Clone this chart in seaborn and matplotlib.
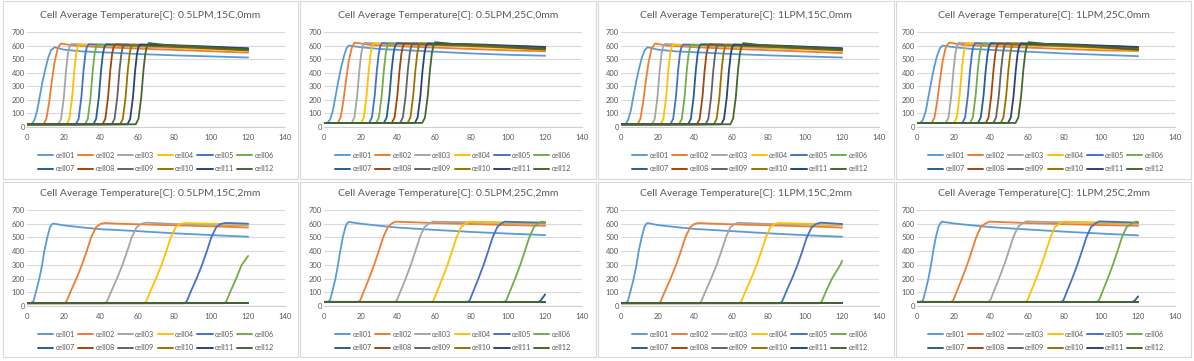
import pandas as pd
import matplotlib.pyplot as plt
import seaborn as sns
from matplotlib.lines import Line2D
from matplotlib.patches import Rectangle

# Nombres de las celdas y colores (paleta por defecto de Excel)
cells = ["cell01", "cell02", "cell03", "cell04", "cell05", "cell06",
         "cell07", "cell08", "cell09", "cell10", "cell11", "cell12"]
colors = ["#5B9BD5", "#ED7D31", "#A5A5A5", "#FFC000", "#4472C4", "#70AD47",
          "#255E91", "#9E480E", "#636363", "#997300", "#264478", "#43682B"]

titles = ["Cell Average Temperature[C]: 0.5LPM,15C,0mm",
          "Cell Average Temperature[C]: 0.5LPM,25C,0mm",
          "Cell Average Temperature[C]: 1LPM,15C,0mm",
          "Cell Average Temperature[C]: 1LPM,25C,0mm",
          "Cell Average Temperature[C]: 0.5LPM,15C,2mm",
          "Cell Average Temperature[C]: 0.5LPM,25C,2mm",
          "Cell Average Temperature[C]: 1LPM,15C,2mm",
          "Cell Average Temperature[C]: 1LPM,25C,2mm"]

x_ticks = [0, 20, 40, 60, 80, 100, 120, 140]
y_ticks = [0, 100, 200, 300, 400, 500, 600, 700]

p_05_15_0 = {
    "cell01": ([0, 2.5, 4, 5.5, 7, 8.5, 10, 11.5, 13, 15, 20, 30, 45, 60, 80, 100, 120],
               [20, 20, 50, 120, 230, 340, 430, 510, 565, 588, 570, 557, 548, 538, 528, 520, 512]),
    "cell02": ([0, 9, 10.5, 12, 13.5, 15, 16.5, 17.5, 18.5, 25, 40, 60, 80, 100, 120],
               [20, 20, 60, 180, 340, 480, 570, 600, 615, 600, 588, 578, 568, 558, 548]),
    "cell03": ([0, 17, 18.5, 20, 21.2, 22.2, 23, 24, 40, 60, 90, 120],
               [20, 20, 60, 220, 420, 540, 590, 612, 602, 592, 578, 565]),
    "cell04": ([0, 21.5, 23, 24.5, 25.7, 26.7, 27.5, 28.5, 50, 80, 120],
               [20, 20, 60, 220, 420, 540, 590, 608, 598, 585, 560]),
    "cell05": ([0, 26.5, 28, 29.5, 30.7, 31.7, 32.5, 33.5, 60, 90, 120],
               [20, 20, 60, 220, 420, 540, 590, 610, 598, 588, 572]),
    "cell06": ([0, 31.5, 33, 34.5, 35.7, 36.7, 37.5, 38.5, 60, 90, 120],
               [20, 20, 60, 220, 420, 540, 590, 608, 598, 585, 570]),
    "cell07": ([0, 36, 37.5, 39, 40.2, 41.2, 42, 43, 70, 95, 120],
               [20, 20, 60, 220, 420, 540, 590, 610, 600, 590, 578]),
    "cell08": ([0, 41, 42.5, 44, 45.2, 46.2, 47, 48, 70, 95, 120],
               [20, 20, 60, 220, 420, 540, 590, 610, 598, 582, 565]),
    "cell09": ([0, 46, 47.5, 49, 50.2, 51.2, 52, 53, 75, 100, 120],
               [20, 20, 60, 220, 420, 540, 590, 608, 600, 588, 572]),
    "cell10": ([0, 50.5, 52, 53.5, 54.7, 55.7, 56.5, 57.5, 80, 100, 120],
               [20, 20, 60, 220, 420, 540, 590, 608, 598, 585, 568]),
    "cell11": ([0, 54.5, 56, 57.5, 58.7, 59.7, 60.5, 61.5, 85, 100, 120],
               [20, 20, 60, 220, 420, 540, 590, 608, 600, 592, 580]),
    "cell12": ([0, 59, 60.5, 62, 63.2, 64.2, 65, 66, 75, 90, 120],
               [20, 20, 60, 220, 420, 540, 590, 618, 605, 592, 570]),
}

p_05_25_0 = {
    "cell01": ([0, 1.8, 3.3, 4.8, 6.3, 7.8, 9.3, 10.8, 12.2, 13.4, 20, 30, 45, 60, 80, 100, 120],
               [30, 30, 55, 120, 230, 340, 440, 520, 580, 600, 588, 575, 565, 555, 542, 532, 525]),
    "cell02": ([0, 7.5, 9, 10.5, 12, 13.5, 15, 16, 16.6, 25, 40, 60, 80, 100, 120],
               [30, 30, 70, 190, 350, 490, 580, 610, 622, 605, 595, 585, 575, 565, 558]),
    "cell03": ([0, 15, 16.5, 18, 19.2, 20.2, 21, 22, 40, 70, 100, 120],
               [30, 30, 70, 230, 420, 540, 595, 620, 608, 598, 585, 575]),
    "cell04": ([0, 20.1, 21.6, 23.1, 24.3, 25.3, 26.1, 27.1, 50, 80, 120],
               [30, 30, 70, 230, 420, 540, 595, 618, 605, 592, 568]),
    "cell05": ([0, 24.5, 26, 27.5, 28.7, 29.7, 30.5, 31.5, 60, 90, 120],
               [30, 30, 70, 230, 420, 540, 595, 618, 605, 595, 580]),
    "cell06": ([0, 28.3, 29.8, 31.3, 32.5, 33.5, 34.3, 35.3, 60, 90, 120],
               [30, 30, 70, 230, 420, 540, 595, 616, 605, 592, 575]),
    "cell07": ([0, 32.5, 34, 35.5, 36.7, 37.7, 38.5, 39.5, 70, 95, 120],
               [30, 30, 70, 230, 420, 540, 595, 618, 608, 598, 588]),
    "cell08": ([0, 36.8, 38.3, 39.8, 41, 42, 42.8, 43.8, 70, 95, 120],
               [30, 30, 70, 230, 420, 540, 595, 616, 605, 590, 570]),
    "cell09": ([0, 41.3, 42.8, 44.3, 45.5, 46.5, 47.3, 48.3, 75, 100, 120],
               [30, 30, 70, 230, 420, 540, 595, 616, 608, 595, 580]),
    "cell10": ([0, 45.4, 46.9, 48.4, 49.6, 50.6, 51.4, 52.4, 80, 100, 120],
               [30, 30, 70, 230, 420, 540, 595, 616, 605, 592, 578]),
    "cell11": ([0, 49.3, 50.8, 52.3, 53.5, 54.5, 55.3, 56.3, 85, 100, 120],
               [30, 30, 70, 230, 420, 540, 595, 616, 608, 600, 590]),
    "cell12": ([0, 53.3, 54.8, 56.3, 57.5, 58.5, 59.3, 60.3, 70, 90, 120],
               [30, 30, 70, 230, 420, 540, 595, 625, 612, 600, 575]),
}

p_1_15_0 = {
    "cell01": ([0, 2.3, 3.8, 5.3, 6.8, 8.3, 9.8, 11.3, 12.8, 14.5, 20, 30, 45, 60, 80, 100, 120],
               [20, 20, 50, 120, 230, 340, 430, 510, 565, 588, 570, 557, 548, 538, 528, 520, 512]),
    "cell02": ([0, 9, 10.5, 12, 13.5, 15, 16.5, 17.6, 18.6, 25, 40, 60, 80, 100, 120],
               [20, 20, 60, 180, 340, 480, 570, 600, 615, 600, 588, 576, 566, 556, 545]),
    "cell03": ([0, 16.8, 18.3, 19.8, 21, 22, 22.8, 23.8, 40, 60, 90, 120],
               [20, 20, 60, 220, 420, 540, 590, 612, 600, 590, 576, 565]),
    "cell04": ([0, 21.5, 23, 24.5, 25.7, 26.7, 27.5, 28.5, 50, 80, 120],
               [20, 20, 60, 220, 420, 540, 590, 607, 597, 585, 562]),
    "cell05": ([0, 26.8, 28.3, 29.8, 31, 32, 32.8, 33.8, 60, 90, 120],
               [20, 20, 60, 220, 420, 540, 590, 608, 598, 588, 575]),
    "cell06": ([0, 31.5, 33, 34.5, 35.7, 36.7, 37.5, 38.5, 60, 90, 120],
               [20, 20, 60, 220, 420, 540, 590, 607, 598, 585, 568]),
    "cell07": ([0, 36.4, 37.9, 39.4, 40.6, 41.6, 42.4, 43.4, 70, 95, 120],
               [20, 20, 60, 220, 420, 540, 590, 610, 600, 590, 578]),
    "cell08": ([0, 41.2, 42.7, 44.2, 45.4, 46.4, 47.2, 48.2, 70, 95, 120],
               [20, 20, 60, 220, 420, 540, 590, 610, 598, 582, 565]),
    "cell09": ([0, 45.9, 47.4, 48.9, 50.1, 51.1, 51.9, 52.9, 75, 100, 120],
               [20, 20, 60, 220, 420, 540, 590, 608, 600, 588, 572]),
    "cell10": ([0, 50.4, 51.9, 53.4, 54.6, 55.6, 56.4, 57.4, 80, 100, 120],
               [20, 20, 60, 220, 420, 540, 590, 608, 598, 585, 570]),
    "cell11": ([0, 54.4, 55.9, 57.4, 58.6, 59.6, 60.4, 61.4, 85, 100, 120],
               [20, 20, 60, 220, 420, 540, 590, 608, 600, 592, 580]),
    "cell12": ([0, 59.3, 60.8, 62.3, 63.5, 64.5, 65.3, 66.3, 75, 90, 120],
               [20, 20, 60, 220, 420, 540, 590, 618, 605, 592, 572]),
}

p_1_25_0 = {
    "cell01": ([0, 1.8, 3.3, 4.8, 6.3, 7.8, 9.3, 10.8, 12.4, 13.9, 20, 30, 45, 60, 80, 100, 120],
               [30, 30, 55, 120, 230, 340, 440, 520, 580, 600, 588, 575, 565, 555, 542, 532, 522]),
    "cell02": ([0, 8, 9.5, 11, 12.5, 14, 15.5, 16.7, 17.5, 25, 40, 60, 80, 100, 120],
               [30, 30, 70, 190, 350, 490, 580, 610, 622, 605, 595, 585, 575, 565, 560]),
    "cell03": ([0, 15.6, 17.1, 18.6, 19.8, 20.8, 21.6, 22.6, 40, 70, 100, 120],
               [30, 30, 70, 230, 420, 540, 595, 620, 608, 598, 585, 572]),
    "cell04": ([0, 20.1, 21.6, 23.1, 24.3, 25.3, 26.1, 27.1, 50, 80, 120],
               [30, 30, 70, 230, 420, 540, 595, 618, 605, 592, 565]),
    "cell05": ([0, 24.6, 26.1, 27.6, 28.8, 29.8, 30.6, 31.6, 60, 90, 120],
               [30, 30, 70, 230, 420, 540, 595, 618, 605, 595, 580]),
    "cell06": ([0, 28.8, 30.3, 31.8, 33, 34, 34.8, 35.8, 60, 90, 120],
               [30, 30, 70, 230, 420, 540, 595, 616, 605, 592, 575]),
    "cell07": ([0, 33.1, 34.6, 36.1, 37.3, 38.3, 39.1, 40.1, 70, 95, 120],
               [30, 30, 70, 230, 420, 540, 595, 618, 608, 598, 588]),
    "cell08": ([0, 37.3, 38.8, 40.3, 41.5, 42.5, 43.3, 44.3, 70, 95, 120],
               [30, 30, 70, 230, 420, 540, 595, 616, 605, 590, 568]),
    "cell09": ([0, 41.4, 42.9, 44.4, 45.6, 46.6, 47.4, 48.4, 75, 100, 120],
               [30, 30, 70, 230, 420, 540, 595, 616, 608, 595, 580]),
    "cell10": ([0, 45.4, 46.9, 48.4, 49.6, 50.6, 51.4, 52.4, 80, 100, 120],
               [30, 30, 70, 230, 420, 540, 595, 616, 605, 592, 578]),
    "cell11": ([0, 49.4, 50.9, 52.4, 53.6, 54.6, 55.4, 56.4, 85, 100, 120],
               [30, 30, 70, 230, 420, 540, 595, 616, 608, 600, 590]),
    "cell12": ([0, 53.5, 55, 56.5, 57.7, 58.7, 59.5, 60.5, 70, 90, 120],
               [30, 30, 70, 230, 420, 540, 595, 625, 612, 600, 572]),
}

p_05_15_2 = {
    "cell01": ([0, 2, 3.5, 4.8, 6.7, 8.2, 9.4, 11, 12.5, 13.4, 14.3, 20, 30, 40, 60, 80, 100, 120],
               [20, 20, 35, 100, 200, 300, 400, 500, 575, 595, 601, 588, 573, 560, 546, 530, 517, 505]),
    "cell02": ([0, 20.3, 21.5, 23.5, 26.8, 29.8, 32.4, 34.8, 37.5, 39.8, 42.3, 50, 70, 90, 110, 120],
               [20, 20, 35, 100, 200, 300, 400, 500, 575, 598, 605, 600, 592, 585, 577, 572]),
    "cell03": ([0, 42.3, 43.5, 45.5, 48.8, 51.8, 54.4, 56.8, 59.5, 61.8, 64.4, 80, 100, 120],
               [20, 20, 35, 100, 200, 300, 400, 500, 575, 598, 608, 598, 592, 588]),
    "cell04": ([0, 63.5, 64.7, 66.7, 70, 73, 75.6, 78, 80.7, 83, 85.5, 100, 120],
               [20, 20, 35, 100, 200, 300, 400, 500, 575, 598, 605, 600, 597]),
    "cell05": ([0, 85.5, 86.7, 88.7, 92, 95, 97.6, 100, 102.7, 105, 107.8, 120],
               [20, 20, 35, 100, 200, 300, 400, 500, 575, 598, 606, 600]),
    "cell06": ([0, 107, 108.2, 110.2, 113.5, 116.5, 120],
               [20, 20, 35, 100, 200, 300, 365]),
    "cell07": ([0, 120], [20, 20]),
    "cell08": ([0, 120], [20, 20]),
    "cell09": ([0, 120], [20, 20]),
    "cell10": ([0, 120], [20, 20]),
    "cell11": ([0, 120], [20, 20]),
    "cell12": ([0, 120], [20, 20]),
}

p_05_25_2 = {
    "cell01": ([0, 1.8, 3.2, 4.4, 6.2, 7.6, 8.8, 10.2, 11.6, 12.4, 13.4, 20, 30, 40, 60, 80, 100, 120],
               [30, 30, 40, 100, 200, 300, 400, 500, 575, 600, 613, 600, 585, 572, 555, 540, 528, 517]),
    "cell02": ([0, 18.4, 19.6, 21.4, 24.4, 27.2, 29.7, 32.1, 34.6, 36.6, 38.7, 60, 80, 100, 120],
               [30, 30, 40, 100, 200, 300, 400, 500, 575, 600, 615, 605, 598, 590, 585]),
    "cell03": ([0, 38.3, 39.5, 41.3, 44.3, 47.1, 49.6, 52, 54.5, 56.8, 59.1, 80, 100, 120],
               [30, 30, 40, 100, 200, 300, 400, 500, 575, 600, 615, 610, 605, 600]),
    "cell04": ([0, 58.2, 59.4, 61.2, 64.2, 67, 69.5, 71.9, 74.4, 76.6, 79, 100, 120],
               [30, 30, 40, 100, 200, 300, 400, 500, 575, 600, 615, 610, 605]),
    "cell05": ([0, 77.8, 79, 80.8, 83.8, 86.6, 89.1, 91.5, 94, 96, 98, 110, 120],
               [30, 30, 40, 100, 200, 300, 400, 500, 575, 600, 615, 610, 608]),
    "cell06": ([0, 97.7, 98.9, 100.7, 103.7, 106.5, 109, 111.4, 113.9, 115.9, 117.9, 120],
               [30, 30, 40, 100, 200, 300, 400, 500, 575, 600, 615, 612]),
    "cell07": ([0, 116.4, 117.6, 120], [30, 30, 40, 85]),
    "cell08": ([0, 120], [30, 30]),
    "cell09": ([0, 120], [30, 30]),
    "cell10": ([0, 120], [30, 30]),
    "cell11": ([0, 120], [30, 30]),
    "cell12": ([0, 120], [30, 30]),
}

p_1_15_2 = {
    "cell01": ([0, 2.2, 3.7, 5, 6.9, 8.4, 9.6, 11.2, 12.7, 13.6, 14.5, 20, 30, 40, 60, 80, 100, 120],
               [20, 20, 35, 100, 200, 300, 400, 500, 575, 598, 605, 590, 575, 562, 546, 530, 516, 505]),
    "cell02": ([0, 20.4, 21.6, 23.6, 26.9, 29.9, 32.5, 34.9, 37.6, 39.8, 42.1, 50, 70, 90, 110, 120],
               [20, 20, 35, 100, 200, 300, 400, 500, 575, 598, 605, 600, 592, 585, 577, 572]),
    "cell03": ([0, 42.4, 43.6, 45.6, 48.9, 51.9, 54.5, 56.9, 59.4, 61.5, 63.8, 80, 100, 120],
               [20, 20, 35, 100, 200, 300, 400, 500, 575, 598, 607, 598, 594, 590]),
    "cell04": ([0, 64.1, 65.3, 67.3, 70.6, 73.6, 76.2, 78.6, 81.1, 83.2, 85.4, 100, 120],
               [20, 20, 35, 100, 200, 300, 400, 500, 575, 598, 605, 600, 595]),
    "cell05": ([0, 86.3, 87.5, 89.5, 92.8, 95.8, 98.4, 100.8, 103.5, 105.8, 108.4, 120],
               [20, 20, 35, 100, 200, 300, 400, 500, 575, 598, 608, 598]),
    "cell06": ([0, 107.8, 109, 111, 114.5, 119, 120],
               [20, 20, 35, 100, 200, 300, 330]),
    "cell07": ([0, 120], [20, 20]),
    "cell08": ([0, 120], [20, 20]),
    "cell09": ([0, 120], [20, 20]),
    "cell10": ([0, 120], [20, 20]),
    "cell11": ([0, 120], [20, 20]),
    "cell12": ([0, 120], [20, 20]),
}

p_1_25_2 = {
    "cell01": ([0, 1.8, 3.2, 4.4, 6.2, 7.6, 8.8, 10.2, 11.6, 12.5, 13.5, 20, 30, 40, 60, 80, 100, 120],
               [30, 30, 40, 100, 200, 300, 400, 500, 575, 600, 615, 602, 588, 575, 558, 542, 528, 515]),
    "cell02": ([0, 18.4, 19.6, 21.4, 24.4, 27.2, 29.7, 32.1, 34.6, 36.9, 39.2, 60, 80, 100, 120],
               [30, 30, 40, 100, 200, 300, 400, 500, 575, 600, 615, 605, 597, 590, 585]),
    "cell03": ([0, 38.5, 39.7, 41.5, 44.5, 47.3, 49.8, 52.2, 54.7, 56.9, 59.2, 80, 100, 120],
               [30, 30, 40, 100, 200, 300, 400, 500, 575, 600, 617, 610, 605, 600]),
    "cell04": ([0, 58.7, 59.9, 61.7, 64.7, 67.5, 70, 72.4, 74.9, 77.2, 79.5, 100, 120],
               [30, 30, 40, 100, 200, 300, 400, 500, 575, 600, 615, 610, 605]),
    "cell05": ([0, 78.2, 79.4, 81.2, 84.2, 87, 89.5, 91.9, 94.4, 96.6, 98.8, 110, 120],
               [30, 30, 40, 100, 200, 300, 400, 500, 575, 600, 617, 612, 608]),
    "cell06": ([0, 97.5, 98.7, 100.5, 103.5, 106.3, 108.8, 111.2, 113.7, 116.3, 119, 120],
               [30, 30, 40, 100, 200, 300, 400, 500, 575, 600, 617, 612]),
    "cell07": ([0, 117, 118.2, 120], [30, 30, 40, 70]),
    "cell08": ([0, 120], [30, 30]),
    "cell09": ([0, 120], [30, 30]),
    "cell10": ([0, 120], [30, 30]),
    "cell11": ([0, 120], [30, 30]),
    "cell12": ([0, 120], [30, 30]),
}

panels = [p_05_15_0, p_05_25_0, p_1_15_0, p_1_25_0,
          p_05_15_2, p_05_25_2, p_1_15_2, p_1_25_2]

# Estilo
sns.set_style("white")
plt.rcParams["font.family"] = ["Lato", "DejaVu Sans"]
text_color = "#595959"
grid_color = "#D9D9D9"

W, H = 1194, 361
fig = plt.figure(figsize=(W / 100, H / 100), dpi=100)

# Posiciones en pixeles (columna / fila)
plot_left = [27, 324, 621, 917]
plot_top = [32, 210]
plot_h = [95, 96]
plot_w = 258
box_left = [3, 300, 598, 896]
box_right = [298, 596, 894, 1191]
box_top = [1, 182]
box_bottom = [179, 357]
title_y = [15, 194]
legend_top = [148, 327]

palette = dict(zip(cells, colors))
handles = [Line2D([], [], color=c, lw=1.4) for c in colors]
# el legend llena por columnas: reordenar para tener cell01..06 arriba
order = [i + 6 * r for i in range(6) for r in range(2)]

for k, panel in enumerate(panels):
    r, c = divmod(k, 4)

    # Marco del grafico
    fig.patches.append(Rectangle((box_left[c] / W, 1 - box_bottom[r] / H),
                                 (box_right[c] - box_left[c]) / W,
                                 (box_bottom[r] - box_top[r]) / H,
                                 transform=fig.transFigure, fill=False,
                                 ec=grid_color, lw=0.8))

    ax = fig.add_axes([plot_left[c] / W, 1 - (plot_top[r] + plot_h[r]) / H,
                       plot_w / W, plot_h[r] / H])

    rows = []
    for cell in cells:
        ts, temps = panel[cell]
        for t, v in zip(ts, temps):
            rows.append({"cell": cell, "time": t, "temp": v})
    df = pd.DataFrame(rows)

    sns.lineplot(data=df, x="time", y="temp", hue="cell", hue_order=cells,
                 palette=palette, estimator=None, legend=False, lw=1.3, ax=ax)

    ax.set_xlim(0, 140)
    ax.set_ylim(0, 700)
    ax.set_xticks(x_ticks)
    ax.set_yticks(y_ticks)
    ax.set_xlabel("")
    ax.set_ylabel("")
    ax.grid(axis="y", color=grid_color, lw=0.8)
    ax.set_axisbelow(True)
    for side in ["top", "right", "left"]:
        ax.spines[side].set_visible(False)
    ax.spines["bottom"].set_color("#D0D0D0")
    ax.spines["bottom"].set_linewidth(0.8)
    ax.tick_params(axis="both", length=0, labelsize=5.5, labelcolor=text_color)
    ax.tick_params(axis="x", pad=5)
    ax.tick_params(axis="y", pad=1.5)

    # Titulo
    fig.text((box_left[c] + box_right[c]) / 2 / W, 1 - title_y[r] / H, titles[k],
             ha="center", va="center", fontsize=7.5, color=text_color)

    # Leyenda
    ax.legend([handles[i] for i in order], [cells[i] for i in order],
              loc="upper center", ncol=6, frameon=False,
              bbox_to_anchor=((plot_left[c] + plot_w / 2) / W, 1 - legend_top[r] / H),
              bbox_transform=fig.transFigure, fontsize=5.2, labelcolor=text_color,
              handlelength=2.1, handletextpad=0.3, columnspacing=0.45,
              labelspacing=0.9, borderpad=0)

fig.savefig("out.png", dpi=100)
